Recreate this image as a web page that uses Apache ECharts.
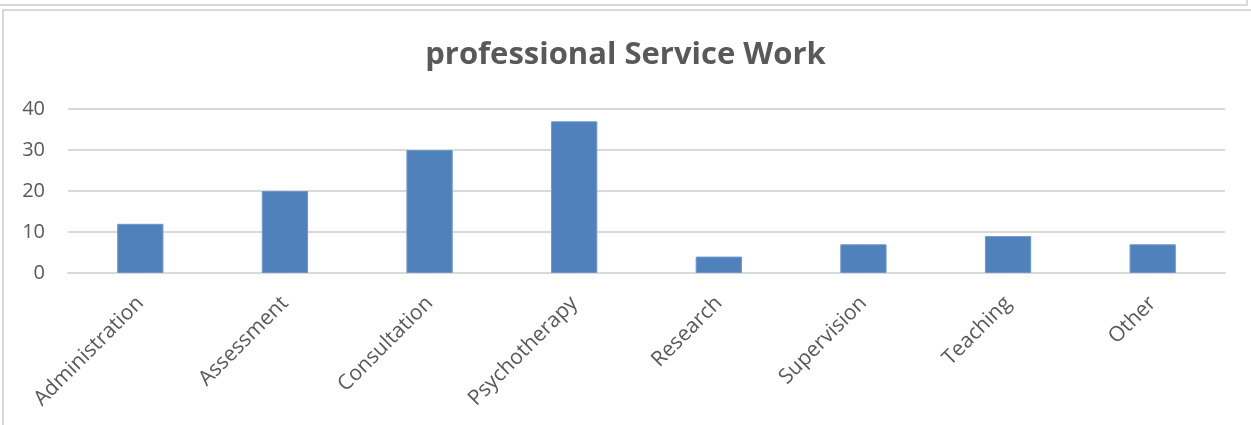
<!DOCTYPE html>
<html>
<head>
<meta charset="utf-8">
<script src="https://cdn.jsdelivr.net/npm/echarts@6/dist/echarts.min.js"></script>
<style>
  html, body { margin: 0; padding: 0; background: #fff; }
  #wrap { position: relative; width: 1251px; height: 425px; overflow: hidden; }
  #topbox { position: absolute; left: -2px; top: -10px; width: 1248px; height: 12px;
            border: 2px solid #d9d9d9; border-left: none; }
  #chartbox { position: absolute; left: 2px; top: 9px; width: 1260px; height: 430px;
              border-left: 2px solid #d9d9d9; border-top: 2px solid #d9d9d9; }
  #chart { position: absolute; left: 0; top: 0; width: 1251px; height: 425px; }
</style>
</head>
<body>
<div id="wrap">
  <div id="topbox"></div>
  <div id="chartbox"></div>
  <div id="chart"></div>
</div>
<script>
// Hours of professional service work by activity
const categories = ['Administration', 'Assessment', 'Consultation', 'Psychotherapy',
                    'Research', 'Supervision', 'Teaching', 'Other'];
const values = [12, 20, 30, 37, 4, 7, 9, 7];
const yTicks = { min: 0, max: 40, interval: 10 };

const font = '"Open Sans", "Liberation Sans", sans-serif';
const chart = echarts.init(document.getElementById('chart'), null, { renderer: 'canvas' });
chart.setOption({
  animation: false,
  backgroundColor: 'transparent',
  title: {
    text: 'professional Service Work',
    left: 'center',
    top: 35,
    textStyle: { fontFamily: font, fontSize: 31, fontWeight: 'bold', color: '#595959' }
  },
  grid: { left: 68, right: 26, top: 109, bottom: 152, containLabel: false },
  xAxis: {
    type: 'category',
    data: categories,
    axisLine: { show: true, lineStyle: { color: '#d9d9d9', width: 2 } },
    axisTick: { show: false },
    axisLabel: {
      rotate: 45, interval: 0, margin: 27,
      fontFamily: font, fontSize: 21, color: '#595959'
    }
  },
  yAxis: {
    type: 'value',
    min: yTicks.min, max: yTicks.max, interval: yTicks.interval,
    axisLine: { show: false },
    axisTick: { show: false },
    splitLine: { lineStyle: { color: '#d9d9d9', width: 2 } },
    axisLabel: { margin: 23, fontFamily: font, fontSize: 20, color: '#595959' }
  },
  series: [{
    type: 'bar',
    data: values,
    barWidth: '32%',
    itemStyle: { color: '#4f81bd', borderColor: '#6f98c9', borderWidth: 1 }
  }]
});
</script>
</body>
</html>
